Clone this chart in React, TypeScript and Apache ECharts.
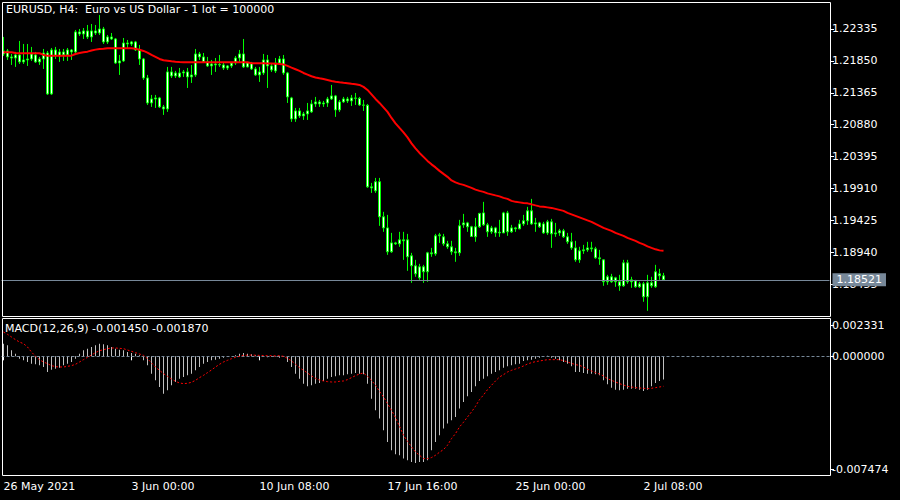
import React, { useEffect, useRef } from "react";
import * as echarts from "echarts";

// ---------- data ----------
const titleText = "EURUSD, H4:  Euro vs US Dollar - 1 lot = 100000";
const macdText = "MACD(12,26,9) -0.001450 -0.001870";

const tickLabels = ["26 May 2021", "3 Jun 00:00", "10 Jun 08:00", "17 Jun 16:00", "25 Jun 00:00", "2 Jul 08:00"];
const tickIndex = [0, 32, 64, 96, 128, 160];
const slotCount = 207; // visible bar slots (incl. empty right part)

const priceTicks = [1.22335, 1.2185, 1.21365, 1.2088, 1.20395, 1.1991, 1.19425, 1.1894, 1.18455];
const priceMin = 1.1797;
const priceMax = 1.2273;
const lastPrice = 1.18521;

const macdTicks = [0.002331, 0, -0.007474];
const macdMax = 0.002331;
const macdMin = -0.007474;

const open = [
  1.21955, 1.22001, 1.2191, 1.21894, 1.2194, 1.21834, 1.21864, 1.21879, 1.2194, 1.21834,
  1.21879, 1.2197, 1.21347, 1.22016, 1.21925, 1.21986, 1.2194, 1.22016, 1.21986, 1.2229,
  1.22259, 1.22305, 1.22214, 1.22305, 1.22274, 1.22335, 1.22138, 1.22214, 1.22183, 1.21818,
  1.21849, 1.22122, 1.22107, 1.22138, 1.22016, 1.21879, 1.2159, 1.2121, 1.21271, 1.21286,
  1.2115, 1.21119, 1.21682, 1.21621, 1.21666, 1.21666, 1.21682, 1.21606, 1.21636, 1.21955,
  1.2191, 1.21834, 1.21773, 1.21803, 1.21788, 1.21788, 1.21742, 1.21773, 1.21818, 1.21894,
  1.21955, 1.21758, 1.21818, 1.21727, 1.21636, 1.21666, 1.21864, 1.21773, 1.21697, 1.21818,
  1.21879, 1.21666, 1.21286, 1.20967, 1.21089, 1.21013, 1.21043, 1.21074, 1.21195, 1.21226,
  1.21195, 1.2121, 1.21271, 1.21317, 1.21104, 1.21226, 1.21271, 1.21241, 1.21286, 1.2128,
  1.2118, 1.21175, 1.19934, 1.19873, 1.20012, 1.19478, 1.1931, 1.18946, 1.19082, 1.19067,
  1.19128, 1.19128, 1.18885, 1.18733, 1.1855, 1.18718, 1.18642, 1.1893, 1.18915, 1.19189,
  1.19174, 1.19067, 1.19022, 1.18946, 1.1893, 1.19356, 1.19386, 1.19326, 1.19174, 1.19326,
  1.19538, 1.19356, 1.1925, 1.1931, 1.19234, 1.19234, 1.19538, 1.1925, 1.1931, 1.19295,
  1.19371, 1.19417, 1.19569, 1.19371, 1.19386, 1.19371, 1.19234, 1.19402, 1.19219, 1.19234,
  1.19265, 1.19174, 1.19098, 1.19006, 1.18824, 1.18961, 1.18976, 1.19006, 1.18991, 1.18854,
  1.18824, 1.1849, 1.18566, 1.1849, 1.1849, 1.18429, 1.18778, 1.1849, 1.18505, 1.18414,
  1.18459, 1.18262, 1.18474, 1.18414, 1.18611, 1.18581,
];
const high = [
  1.22214, 1.22031, 1.21955, 1.21986, 1.22153, 1.22107, 1.22107, 1.22062, 1.21986, 1.2191,
  1.22031, 1.22001, 1.22046, 1.22062, 1.22031, 1.22031, 1.22046, 1.22031, 1.2232, 1.22335,
  1.2235, 1.22396, 1.22411, 1.22396, 1.22548, 1.22366, 1.22244, 1.22274, 1.22198, 1.2194,
  1.22198, 1.22168, 1.22153, 1.22153, 1.22092, 1.21894, 1.21636, 1.21332, 1.21332, 1.21302,
  1.2118, 1.21758, 1.21758, 1.21697, 1.21742, 1.21712, 1.21742, 1.21788, 1.22031, 1.21986,
  1.2197, 1.2191, 1.21864, 1.21894, 1.2194, 1.21818, 1.21788, 1.21834, 1.21925, 1.22016,
  1.22183, 1.21834, 1.21834, 1.21758, 1.21758, 1.21955, 1.2194, 1.21818, 1.21894, 1.21925,
  1.2194, 1.21682, 1.21302, 1.21134, 1.21134, 1.21074, 1.2121, 1.21256, 1.21302, 1.21256,
  1.21241, 1.21302, 1.21484, 1.21332, 1.21256, 1.21302, 1.21302, 1.21332, 1.21362, 1.21302,
  1.21256, 1.21195, 1.19994, 1.2007, 1.2007, 1.19554, 1.19508, 1.19234, 1.19098, 1.1925,
  1.1925, 1.19219, 1.1893, 1.18824, 1.18763, 1.18748, 1.18946, 1.19006, 1.19219, 1.19234,
  1.19219, 1.19113, 1.19113, 1.19006, 1.19432, 1.19523, 1.19402, 1.19341, 1.19462, 1.19538,
  1.19706, 1.19386, 1.19341, 1.19326, 1.19432, 1.19554, 1.19569, 1.19356, 1.19326, 1.19432,
  1.19508, 1.1963, 1.19751, 1.19462, 1.19402, 1.19402, 1.19432, 1.19447, 1.19386, 1.19295,
  1.19295, 1.19234, 1.19234, 1.19113, 1.19022, 1.19052, 1.19098, 1.19098, 1.19022, 1.18976,
  1.1883, 1.18596, 1.18611, 1.18566, 1.18596, 1.18824, 1.18824, 1.18566, 1.1852, 1.1849,
  1.1849, 1.18596, 1.18566, 1.18748, 1.18687, 1.18626,
];
const low = [
  1.21925, 1.21864, 1.21788, 1.21758, 1.21803, 1.21803, 1.21773, 1.21849, 1.21818, 1.21788,
  1.21727, 1.21332, 1.21332, 1.21879, 1.21834, 1.21849, 1.21849, 1.21864, 1.21955, 1.22229,
  1.22183, 1.22183, 1.22138, 1.22244, 1.22244, 1.22107, 1.22107, 1.22168, 1.21803, 1.21636,
  1.21834, 1.22046, 1.22077, 1.22001, 1.21788, 1.2156, 1.2118, 1.2115, 1.21134, 1.21134,
  1.21028, 1.21074, 1.2159, 1.2159, 1.2159, 1.21606, 1.21438, 1.21514, 1.21606, 1.21864,
  1.21818, 1.21758, 1.21636, 1.21682, 1.21758, 1.21712, 1.21712, 1.21742, 1.21788, 1.21834,
  1.21742, 1.2175, 1.21712, 1.21621, 1.2153, 1.21636, 1.21438, 1.21682, 1.21666, 1.21788,
  1.21636, 1.2121, 1.20922, 1.20922, 1.20982, 1.20952, 1.20952, 1.21058, 1.2115, 1.2115,
  1.2115, 1.2115, 1.21256, 1.20998, 1.21074, 1.2121, 1.2121, 1.21165, 1.2118, 1.21165,
  1.21089, 1.19918, 1.19842, 1.19842, 1.19341, 1.1925, 1.189, 1.1893, 1.19052, 1.19022,
  1.18824, 1.18657, 1.18474, 1.18566, 1.1852, 1.18474, 1.1849, 1.1887, 1.18885, 1.19082,
  1.19037, 1.18991, 1.189, 1.18794, 1.18885, 1.1931, 1.1925, 1.19174, 1.19098, 1.1931,
  1.19341, 1.19174, 1.19219, 1.19174, 1.19174, 1.1923, 1.19189, 1.19234, 1.1925, 1.1929,
  1.19341, 1.19356, 1.19356, 1.1925, 1.1931, 1.19219, 1.19204, 1.19006, 1.19174, 1.19189,
  1.19158, 1.19067, 1.18976, 1.18794, 1.18778, 1.18915, 1.18946, 1.18946, 1.18839, 1.18748,
  1.18429, 1.18444, 1.18474, 1.18414, 1.18353, 1.18414, 1.18459, 1.18398, 1.18398, 1.18398,
  1.18186, 1.18049, 1.18398, 1.18398, 1.1852, 1.18505,
];
const close = [
  1.22001, 1.2191, 1.21894, 1.2194, 1.21834, 1.21864, 1.21879, 1.21955, 1.21834, 1.21879,
  1.2197, 1.21347, 1.22016, 1.21925, 1.21986, 1.2194, 1.22016, 1.21986, 1.2229, 1.22259,
  1.22305, 1.22214, 1.22305, 1.22274, 1.22335, 1.22138, 1.22214, 1.22183, 1.21818, 1.21849,
  1.22122, 1.22107, 1.22138, 1.22016, 1.21879, 1.2159, 1.2121, 1.21271, 1.21286, 1.2115,
  1.21119, 1.21682, 1.21621, 1.21666, 1.21606, 1.21682, 1.21606, 1.21636, 1.21955, 1.2191,
  1.21834, 1.21773, 1.21803, 1.21788, 1.21795, 1.21742, 1.21773, 1.21818, 1.21894, 1.21955,
  1.21758, 1.21818, 1.21727, 1.21636, 1.21682, 1.21864, 1.21773, 1.21712, 1.21818, 1.21879,
  1.21666, 1.21302, 1.20967, 1.21089, 1.21013, 1.21043, 1.21089, 1.21195, 1.21226, 1.21195,
  1.2121, 1.21271, 1.21317, 1.21104, 1.21226, 1.21271, 1.21241, 1.21286, 1.2128, 1.2118,
  1.21175, 1.19934, 1.19918, 1.20012, 1.19478, 1.1931, 1.18946, 1.19082, 1.19067, 1.19128,
  1.19113, 1.1887, 1.18733, 1.18611, 1.18718, 1.18642, 1.1893, 1.18915, 1.19189, 1.19204,
  1.19067, 1.19022, 1.18946, 1.1893, 1.19341, 1.19386, 1.19326, 1.1918, 1.19326, 1.1953,
  1.19356, 1.1925, 1.1931, 1.19234, 1.19245, 1.19538, 1.1925, 1.1931, 1.19295, 1.19371,
  1.19417, 1.19569, 1.19371, 1.19386, 1.19326, 1.19234, 1.19402, 1.19219, 1.19234, 1.19265,
  1.19174, 1.19098, 1.19006, 1.18824, 1.18961, 1.18976, 1.19006, 1.18991, 1.18854, 1.18839,
  1.1849, 1.18566, 1.1849, 1.1855, 1.18429, 1.18778, 1.1849, 1.1852, 1.18414, 1.18459,
  1.18262, 1.18474, 1.18429, 1.18642, 1.18581, 1.18521,
];
const movingAvg = [
  1.21981, 1.21981, 1.21981, 1.2197, 1.21966, 1.21966, 1.21966, 1.21966, 1.21966, 1.21966,
  1.2194, 1.21929, 1.21929, 1.21929, 1.21929, 1.21929, 1.21929, 1.21929, 1.21955, 1.2197,
  1.21981, 1.2199, 1.22008, 1.22021, 1.22031, 1.22036, 1.22042, 1.22042, 1.22042, 1.22042,
  1.22042, 1.22042, 1.22042, 1.22034, 1.22019, 1.22001, 1.21975, 1.2194, 1.2191, 1.21879,
  1.2186, 1.21853, 1.21844, 1.21837, 1.21831, 1.21829, 1.21829, 1.21829, 1.21829, 1.21829,
  1.21829, 1.21829, 1.21829, 1.21829, 1.21829, 1.21829, 1.21829, 1.21829, 1.21829, 1.21829,
  1.21829, 1.21829, 1.21814, 1.21814, 1.21814, 1.21814, 1.21811, 1.21811, 1.21808, 1.21803,
  1.21796, 1.21773, 1.21747, 1.21723, 1.21697, 1.21666, 1.21641, 1.21616, 1.21598, 1.21586,
  1.21575, 1.2156, 1.21545, 1.21534, 1.21525, 1.21517, 1.2151, 1.21502, 1.21495, 1.21484,
  1.21454, 1.21408, 1.2134, 1.21271, 1.2121, 1.21142, 1.21074, 1.20982, 1.20899, 1.2083,
  1.20762, 1.20686, 1.20595, 1.20519, 1.2045, 1.2039, 1.20329, 1.20276, 1.2023, 1.20177,
  1.20131, 1.20086, 1.20032, 1.20002, 1.19979, 1.19964, 1.19941, 1.19918, 1.19892, 1.19873,
  1.19858, 1.19835, 1.1982, 1.19804, 1.19789, 1.19766, 1.19751, 1.19721, 1.19706, 1.19698,
  1.1969, 1.19683, 1.19668, 1.19652, 1.19637, 1.1963, 1.19622, 1.19614, 1.19599, 1.19584,
  1.19569, 1.19538, 1.19516, 1.19493, 1.1947, 1.19447, 1.19424, 1.19402, 1.19371, 1.19341,
  1.1931, 1.19288, 1.19265, 1.19234, 1.19212, 1.19189, 1.19158, 1.19136, 1.19113, 1.19082,
  1.1906, 1.19029, 1.19006, 1.18984, 1.18968, 1.18961,
];
const macdHist = [
  0.00079, 0.000686, 0.000374, 0.000166, -0.000146, -0.00025, -0.000354, -0.000458, -0.000499, -0.000562,
  -0.000666, -0.000978, -0.000832, -0.00077, -0.000707, -0.000562, -0.000458, -0.000354, -0.000146, 0.000166,
  0.000374, 0.000478, 0.000582, 0.000686, 0.00079, 0.000749, 0.000686, 0.000582, 0.000478, 0.000416,
  0.000374, 0.00027, 0.000208, 0.000166, 0.000062, -0.00025, -0.000562, -0.001082, -0.001498, -0.001914,
  -0.00233, -0.002122, -0.00181, -0.001602, -0.001394, -0.00129, -0.001186, -0.001082, -0.000874, -0.000666,
  -0.000458, -0.000354, -0.00025, -0.000208, -0.000146, -0.000083, -0.000042, 0.00001, 0.000062, 0.000166,
  0.000208, 0.000166, 0.000125, 0.000062, -0.000042, -0.00003, -0.00005, -0.00004, -0.00002, -0.000083,
  -0.000042, -0.000354, -0.000666, -0.001082, -0.001394, -0.001706, -0.001872, -0.00181, -0.001706, -0.001664,
  -0.001539, -0.001394, -0.00129, -0.001248, -0.001186, -0.001186, -0.001123, -0.001082, -0.00104, -0.001082,
  -0.001123, -0.001706, -0.002642, -0.00337, -0.00389, -0.004618, -0.005346, -0.005866, -0.006115, -0.006178,
  -0.006386, -0.00649, -0.006594, -0.006656, -0.006594, -0.006594, -0.00649, -0.005866, -0.005346, -0.00493,
  -0.004514, -0.004202, -0.003994, -0.003786, -0.003266, -0.00285, -0.002496, -0.002226, -0.001872, -0.001539,
  -0.001394, -0.001248, -0.001082, -0.000978, -0.000874, -0.000707, -0.000624, -0.000562, -0.000499, -0.000458,
  -0.000291, -0.00025, -0.000208, -0.000146, -0.000083, 0.00002, 0.00003, -0.000083, -0.000146, -0.00025,
  -0.000354, -0.000458, -0.000624, -0.000978, -0.000978, -0.00104, -0.001082, -0.001082, -0.001123, -0.001186,
  -0.001498, -0.001747, -0.001955, -0.00208, -0.002122, -0.00208, -0.002018, -0.002018, -0.002018, -0.00208,
  -0.002163, -0.00208, -0.001872, -0.001664, -0.001539, -0.00145,
];
const macdSignal = [
  0.001518, 0.001373, 0.001206, 0.00104, 0.000894, 0.00079, 0.000582, 0.00027, 0.0, -0.000208,
  -0.000354, -0.000458, -0.000582, -0.000645, -0.000666, -0.000666, -0.000624, -0.000582, -0.000499, -0.000354,
  -0.000208, -0.000062, 0.000083, 0.000229, 0.000354, 0.000416, 0.000478, 0.00052, 0.00052, 0.000499,
  0.000478, 0.000395, 0.000312, 0.000229, 0.000146, 0.000062, -0.000146, -0.000416, -0.000666, -0.000874,
  -0.001082, -0.001248, -0.001414, -0.00156, -0.001664, -0.001706, -0.001685, -0.001622, -0.001498, -0.001331,
  -0.001186, -0.001019, -0.000853, -0.000666, -0.000499, -0.000354, -0.00025, -0.000146, -0.000062, 0.0,
  0.000062, 0.00007, 0.00008, 0.00007, 0.00006, 0.00005, 0.00004, 0.00004, 0.00003, 0.000042,
  0.0, -0.000125, -0.000291, -0.000499, -0.000707, -0.000874, -0.00104, -0.001227, -0.001373, -0.001477,
  -0.001539, -0.001581, -0.001602, -0.001602, -0.00156, -0.001539, -0.001456, -0.001331, -0.001206, -0.001102,
  -0.00104, -0.001248, -0.001498, -0.00181, -0.002184, -0.002538, -0.002954, -0.00337, -0.003827, -0.004368,
  -0.00493, -0.005304, -0.005658, -0.00597, -0.006178, -0.006386, -0.006386, -0.006323, -0.006178, -0.00599,
  -0.005824, -0.005554, -0.005138, -0.004826, -0.00441, -0.004118, -0.003786, -0.003474, -0.00312, -0.002704,
  -0.002413, -0.00208, -0.00181, -0.001539, -0.00129, -0.001144, -0.000978, -0.000874, -0.00079, -0.000707,
  -0.000603, -0.000478, -0.000395, -0.000333, -0.000291, -0.00025, -0.000208, -0.000208, -0.000208, -0.000208,
  -0.00027, -0.000354, -0.000437, -0.00052, -0.000562, -0.000666, -0.000811, -0.000915, -0.001019, -0.001102,
  -0.001227, -0.001394, -0.001498, -0.001602, -0.001706, -0.001789, -0.001872, -0.001914, -0.001955, -0.001976,
  -0.001997, -0.002018, -0.001997, -0.001955, -0.001914, -0.00187,
];

// ---------- styling ----------
const FONT = "'DejaVu Sans', sans-serif";
const WHITE = "#ffffff";
const SLATE = "#778899";

export default function App() {
  const ref = useRef<HTMLDivElement>(null);

  useEffect(() => {
    if (!ref.current) return;
    const chart = echarts.init(ref.current, undefined, { renderer: "svg" });

    const cats = Array.from({ length: slotCount }, (_, i) => String(i));
    const candles = open.map((o, i) => [o, close[i], low[i], high[i]]);
    const showTick = (i: number) => tickIndex.indexOf(i) >= 0;
    const macdPx = (macdMax - macdMin) / 157;
    const macdTickPos = [macdTicks[0] - 6 * macdPx, macdTicks[1], macdTicks[2] + 7 * macdPx];

    const option: any = {
      animation: false,
      backgroundColor: "#000000",
      textStyle: { fontFamily: FONT },
      title: [
        {
          text: titleText,
          left: 6,
          top: 4,
          padding: 0,
          textStyle: { color: WHITE, fontSize: 11, fontWeight: "normal", fontFamily: FONT },
        },
        {
          text: macdText,
          left: 5,
          top: 323,
          padding: 0,
          textStyle: { color: WHITE, fontSize: 11, fontWeight: "normal", fontFamily: FONT },
        },
      ],
      grid: [
        { left: 1.5, top: 3, width: 828, height: 313 },
        { left: 1.5, top: 319, width: 828, height: 157 },
      ],
      xAxis: [
        {
          type: "category",
          gridIndex: 0,
          data: cats,
          boundaryGap: true,
          show: false,
        },
        {
          type: "category",
          gridIndex: 1,
          data: cats,
          boundaryGap: true,
          axisLine: { show: false },
          axisTick: {
            show: true,
            alignWithLabel: true,
            interval: (i: number) => showTick(i),
            length: 4,
            lineStyle: { color: WHITE, width: 1 },
          },
          axisLabel: {
            interval: (i: number) => showTick(i),
            formatter: (_v: string, i: number) => {
              const k = tickIndex.indexOf(i);
              return k >= 0 ? tickLabels[k] : "";
            },
            align: "left",
            color: WHITE,
            fontSize: 11,
            fontFamily: FONT,
            margin: 5,
          },
          splitLine: { show: false },
        },
      ],
      yAxis: [
        {
          type: "value",
          gridIndex: 0,
          position: "right",
          offset: 0.5,
          min: priceMin,
          max: priceMax,
          axisLine: { show: false },
          splitLine: { show: false },
          axisTick: {
            show: true,
            customValues: priceTicks,
            length: 4,
            lineStyle: { color: WHITE, width: 1 },
          },
          axisLabel: {
            customValues: priceTicks,
            formatter: (v: number) => v.toFixed(5),
            color: WHITE,
            fontSize: 11,
            fontFamily: FONT,
            margin: 2,
          },
        },
        {
          type: "value",
          gridIndex: 1,
          position: "right",
          offset: 0.5,
          min: macdMin,
          max: macdMax,
          axisLine: { show: false },
          splitLine: { show: false },
          axisTick: {
            show: true,
            customValues: macdTickPos,
            length: 4,
            lineStyle: { color: WHITE, width: 1 },
          },
          axisLabel: {
            customValues: macdTicks,
            formatter: (v: number) => {
              const s = v.toFixed(6);
              if (v > 0.001) return "{t|" + s + "}";
              if (v < -0.001) return "{b|" + s + "}";
              return s;
            },
            color: WHITE,
            fontSize: 11,
            fontFamily: FONT,
            margin: 2,
            rich: {
              t: { padding: [12, 0, 0, 0], color: WHITE, fontSize: 11, fontFamily: FONT },
              b: { padding: [0, 0, 14, 0], color: WHITE, fontSize: 11, fontFamily: FONT },
            },
          },
        },
      ],
      graphic: [
        {
          type: "rect",
          silent: true,
          z: 100,
          shape: { x: 2.5, y: 2.5, width: 828, height: 314 },
          style: { fill: "none", stroke: WHITE, lineWidth: 1 },
        },
        {
          type: "rect",
          silent: true,
          z: 100,
          shape: { x: 2.5, y: 318.5, width: 828, height: 157 },
          style: { fill: "none", stroke: WHITE, lineWidth: 1 },
        },
      ],
      series: [
        {
          type: "candlestick",
          xAxisIndex: 0,
          yAxisIndex: 0,
          data: candles,
          barWidth: 2,
          itemStyle: {
            color: "#ffffff",
            color0: "#ffffff",
            borderColor: "#00ff00",
            borderColor0: "#00ff00",
            borderWidth: 1,
          },
        },
        {
          type: "line",
          xAxisIndex: 0,
          yAxisIndex: 0,
          data: movingAvg,
          symbol: "none",
          lineStyle: { color: "#ff0000", width: 2 },
          z: 5,
          markLine: {
            silent: true,
            symbol: ["none", "none"],
            animation: false,
            precision: 5,
            lineStyle: { color: SLATE, width: 1, type: "solid" },
            label: {
              show: true,
              position: "end",
              distance: 3,
              formatter: () => lastPrice.toFixed(5),
              backgroundColor: SLATE,
              color: WHITE,
              fontSize: 11,
              fontFamily: FONT,
              padding: [1, 4, 1, 4],
            },
            data: [{ yAxis: lastPrice }],
          },
        },
        {
          type: "bar",
          xAxisIndex: 1,
          yAxisIndex: 1,
          data: macdHist,
          barWidth: 1,
          itemStyle: { color: "#c0c0c0" },
          markLine: {
            silent: true,
            symbol: ["none", "none"],
            animation: false,
            precision: 6,
            lineStyle: { color: SLATE, width: 1, type: [3, 2] },
            label: { show: false },
            data: [{ yAxis: 0 }],
          },
        },
        {
          type: "line",
          xAxisIndex: 1,
          yAxisIndex: 1,
          data: macdSignal,
          symbol: "none",
          lineStyle: { color: "#ff0000", width: 1, type: [2, 2] },
          z: 5,
        },
      ],
    };

    chart.setOption(option);
    return () => chart.dispose();
  }, []);

  return (
    <div
      ref={ref}
      style={{ position: "fixed", left: 0, top: 0, width: 900, height: 500, background: "#000" }}
    />
  );
}
